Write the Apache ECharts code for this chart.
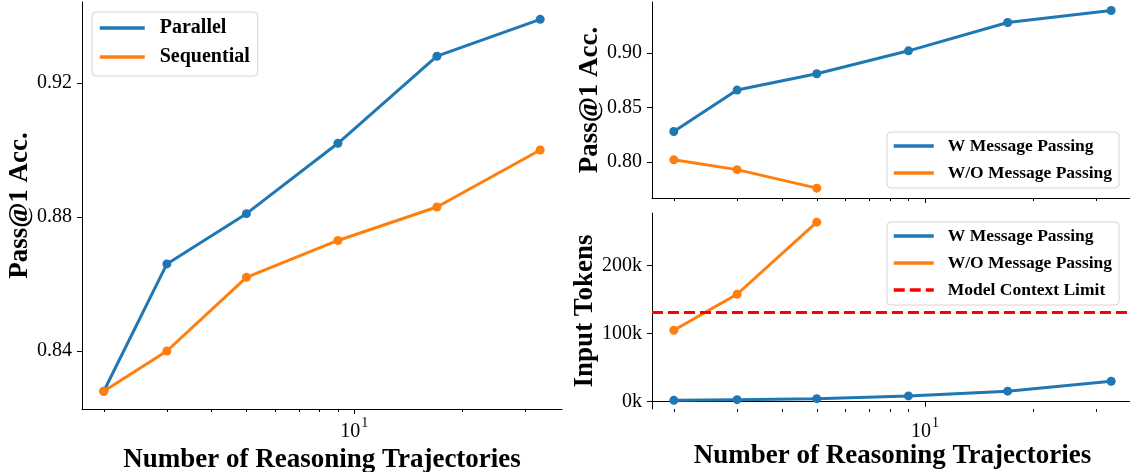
<!DOCTYPE html>
<html><head><meta charset="utf-8">
<script src="https://cdn.jsdelivr.net/npm/echarts@6/dist/echarts.min.js"></script>
<style>html,body{margin:0;padding:0;background:#fff}#chart{width:1130px;height:472px}</style>
</head><body><div id="chart"></div>
<script>
// ---- data ----
const trajectories = [2, 3, 5, 9, 17, 33];
const parallelAcc = [0.828, 0.866, 0.881, 0.902, 0.928, 0.939];
const sequentialAcc = [0.828, 0.840, 0.862, 0.873, 0.883, 0.900];
const withMsgAcc = [0.828, 0.866, 0.881, 0.902, 0.928, 0.939];
const withoutMsgTrajectories = [2, 3, 5];
const withoutMsgAcc = [0.802, 0.793, 0.776];
const withMsgTokens = [2000, 3000, 4500, 8500, 15500, 30000];
const withoutMsgTokens = [105000, 158000, 264000];
const contextLimitTokens = 131072;
const leftAccTicks = [0.84, 0.88, 0.92];
const rightAccTicks = [0.80, 0.85, 0.90];
const tokenTicks = [0, 100000, 200000];
const xMajorTicks = [10];
const xMinorTicks = [2, 3, 4, 5, 6, 7, 8, 9, 20, 30];

const FONT = 'Liberation Serif';
const BLUE = '#1f77b4', ORANGE = '#ff7f0e', RED = '#ff0000';
const X_MIN = 1.739, X_MAX = 37.96;
const XNAME = 'Number of Reasoning Trajectories';

function pairs(xs, ys) { return xs.map((x, i) => [x, ys[i]]); }

function xMajor(gridIndex, showLabel, showName) {
  return {
    type: 'log', logBase: 10, gridIndex, min: X_MIN, max: X_MAX, position: 'bottom',
    axisLine: { show: true, lineStyle: { color: '#000', width: 1 } },
    axisTick: { show: true, customValues: xMajorTicks, length: 5, lineStyle: { color: '#000', width: 1 } },
    axisLabel: {
      show: showLabel, customValues: xMajorTicks, margin: 7,
      formatter: () => '{b|10}{s|1}',
      rich: {
        b: { fontFamily: FONT, fontSize: 20, color: '#000', lineHeight: 26, verticalAlign: 'bottom' },
        s: { fontFamily: FONT, fontSize: 14, color: '#000', lineHeight: 26, verticalAlign: 'top', padding: [0, 0, 0, 1] }
      }
    },
    splitLine: { show: false }, minorTick: { show: false },
    name: showName ? XNAME : '', nameLocation: 'middle', nameGap: 31,
    nameTextStyle: { fontFamily: FONT, fontWeight: 'bold', fontSize: 27, color: '#000' }
  };
}
function xMinor(gridIndex) {
  return {
    type: 'log', logBase: 10, gridIndex, min: X_MIN, max: X_MAX, position: 'bottom', offset: 0,
    axisLine: { show: false },
    axisTick: { show: true, customValues: xMinorTicks, length: 3, lineStyle: { color: '#000', width: 1 } },
    axisLabel: { show: false }, splitLine: { show: false }
  };
}
function yAxis(gridIndex, min, max, ticks, fmt, name, nameGap) {
  return {
    type: 'value', gridIndex, min, max,
    axisLine: { show: true, lineStyle: { color: '#000', width: 1 } },
    axisTick: { show: true, customValues: ticks, length: 5, lineStyle: { color: '#000', width: 1 } },
    axisLabel: { show: true, customValues: ticks, formatter: fmt, margin: 10,
      fontFamily: FONT, fontSize: 20, color: '#000' },
    splitLine: { show: false },
    name, nameLocation: 'middle', nameGap,
    nameTextStyle: { fontFamily: FONT, fontWeight: 'bold', fontSize: 27, color: '#000' }
  };
}
function lineSeries(name, xi, yi, data, color) {
  return {
    name, type: 'line', xAxisIndex: xi, yAxisIndex: yi, data,
    symbol: 'circle', symbolSize: 9, showSymbol: true,
    lineStyle: { color, width: 3 }, itemStyle: { color },
    emphasis: { disabled: true }, animation: false
  };
}
function legend(names, left, top, fontSize, lineH, gap, itemW, pad, txtPad) {
  return {
    data: names, orient: 'vertical', left, top,
    itemWidth: itemW, itemHeight: lineH, itemGap: gap, padding: pad,
    backgroundColor: '#fff', borderColor: '#d4d4d4', borderWidth: 1, borderRadius: 4,
    itemStyle: { opacity: 0 },
    lineStyle: { width: 3.5 },
    textStyle: { fontFamily: FONT, fontWeight: 'bold', fontSize, color: '#000', lineHeight: lineH, padding: [0, 0, 0, txtPad] },
    selectedMode: false
  };
}

const chart = echarts.init(document.getElementById('chart'), null, { renderer: 'canvas' });
chart.setOption({
  backgroundColor: '#fff',
  animation: false,
  grid: [
    { left: 82, right: 568, top: 2, bottom: 63, containLabel: false, outerBoundsMode: 'none' },
    { left: 652, right: -3, top: 2, height: 196, containLabel: false, outerBoundsMode: 'none' },
    { left: 652, right: -3, top: 213, bottom: 63, containLabel: false, outerBoundsMode: 'none' }
  ],
  xAxis: [xMajor(0, true, true), xMinor(0), xMajor(1, false, false), xMinor(1), xMajor(2, true, true), xMinor(2)],
  yAxis: [
    yAxis(0, 0.82269, 0.94418, leftAccTicks, v => v.toFixed(2), 'Pass@1 Acc.', 42),
    yAxis(1, 0.76697, 0.94679, rightAccTicks, v => v.toFixed(2), 'Pass@1 Acc.', 47),
    yAxis(2, -10735, 277500, tokenTicks, v => Math.round(v / 1000) + 'k', 'Input Tokens', 53)
  ],
  legend: [
    legend(['Parallel', 'Sequential'], 92, 12, 20, 20, 9, 45, [6, 8, 9, 6], 10),
    legend(['W Message Passing', 'W/O Message Passing'], 887, 132, 17.5, 18, 9, 40, [5, 7, 6, 5], 9),
    legend(['W Message Passing', 'W/O Message Passing', 'Model Context Limit'], 887, 222, 17.5, 18, 9, 40, [5, 7, 6, 5], 9)
  ],
  series: [
    lineSeries('Parallel', 0, 0, pairs(trajectories, parallelAcc), BLUE),
    lineSeries('Sequential', 0, 0, pairs(trajectories, sequentialAcc), ORANGE),
    lineSeries('W Message Passing', 2, 1, pairs(trajectories, withMsgAcc), BLUE),
    lineSeries('W/O Message Passing', 2, 1, pairs(withoutMsgTrajectories, withoutMsgAcc), ORANGE),
    lineSeries('W Message Passing', 4, 2, pairs(trajectories, withMsgTokens), BLUE),
    lineSeries('W/O Message Passing', 4, 2, pairs(withoutMsgTrajectories, withoutMsgTokens), ORANGE),
    {
      name: 'Model Context Limit', type: 'line', xAxisIndex: 4, yAxisIndex: 2, data: [],
      symbol: 'none', lineStyle: { color: RED, width: 3, type: [11, 5] }, itemStyle: { color: RED },
      markLine: {
        silent: true, symbol: ['none', 'none'], label: { show: false }, animation: false,
        lineStyle: { color: RED, width: 3, type: [11, 5] },
        emphasis: { disabled: true },
        data: [{ yAxis: contextLimitTokens }]
      }
    }
  ]
});
</script></body></html>
